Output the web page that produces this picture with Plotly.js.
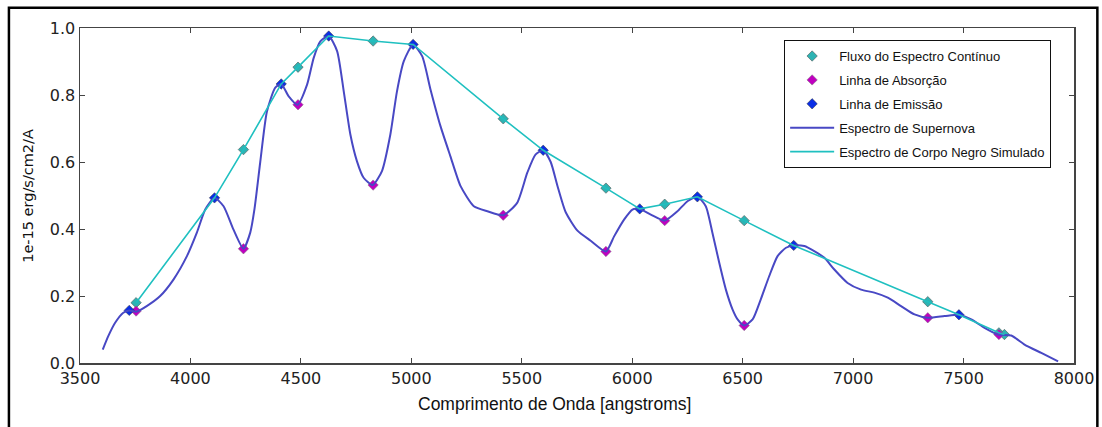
<!DOCTYPE html>
<html>
<head>
<meta charset="utf-8">
<script src="https://cdn.plot.ly/plotly-3.0.1.min.js"></script>
<style>html,body{margin:0;padding:0;background:#fff;}#chart{width:1102px;height:427px;}</style>
</head>
<body>
<div id="chart"></div>
<script>
// Supernova spectrum (traced)
const snWave = [3603, 3628, 3659, 3696, 3723, 3754, 3802, 3863, 3923, 3984, 4029, 4067, 4109, 4150, 4195, 4240, 4271, 4290, 4316, 4346, 4384, 4411, 4444, 4485, 4528, 4558, 4588, 4626, 4664, 4694, 4724, 4754, 4784, 4825, 4867, 4905, 4935, 4966, 5008, 5049, 5087, 5132, 5177, 5223, 5283, 5344, 5416, 5479, 5525, 5562, 5597, 5631, 5661, 5699, 5752, 5812, 5881, 5918, 5963, 6001, 6034, 6084, 6147, 6205, 6250, 6295, 6333, 6363, 6394, 6424, 6454, 6477, 6507, 6545, 6582, 6620, 6658, 6696, 6731, 6779, 6824, 6870, 6915, 6975, 7036, 7096, 7157, 7217, 7278, 7338, 7414, 7479, 7535, 7595, 7656, 7716, 7776, 7852, 7928];
const snFlux = [0.040, 0.080, 0.120, 0.150, 0.157, 0.153, 0.170, 0.200, 0.249, 0.319, 0.389, 0.458, 0.493, 0.468, 0.398, 0.341, 0.390, 0.460, 0.600, 0.750, 0.822, 0.833, 0.797, 0.771, 0.831, 0.911, 0.960, 0.976, 0.931, 0.811, 0.682, 0.602, 0.553, 0.531, 0.573, 0.682, 0.811, 0.901, 0.951, 0.916, 0.816, 0.707, 0.617, 0.528, 0.468, 0.453, 0.441, 0.478, 0.568, 0.622, 0.635, 0.600, 0.530, 0.450, 0.395, 0.365, 0.333, 0.378, 0.428, 0.458, 0.460, 0.443, 0.425, 0.453, 0.483, 0.496, 0.468, 0.389, 0.299, 0.219, 0.160, 0.130, 0.112, 0.130, 0.190, 0.259, 0.319, 0.344, 0.351, 0.349, 0.334, 0.314, 0.279, 0.239, 0.219, 0.210, 0.195, 0.170, 0.145, 0.135, 0.140, 0.144, 0.130, 0.105, 0.085, 0.082, 0.055, 0.030, 0.005];

// Simulated black-body (continuum) line
const bbWave = [3754, 4109, 4240, 4411, 4487, 4626, 4827, 5008, 5416, 5597, 5881, 6034, 6147, 6295, 6507, 6731, 7338, 7479, 7660, 7685];
const bbFlux = [0.180, 0.493, 0.637, 0.833, 0.883, 0.976, 0.961, 0.951, 0.729, 0.635, 0.522, 0.460, 0.474, 0.496, 0.425, 0.351, 0.183, 0.144, 0.090, 0.085];

// Continuum flux points
const contWave = [3754, 4240, 4487, 4827, 5416, 5881, 6147, 6507, 7338, 7660, 7685];
const contFlux = [0.180, 0.637, 0.883, 0.961, 0.729, 0.522, 0.474, 0.425, 0.183, 0.090, 0.085];

// Absorption lines
const absWave = [3754, 4240, 4487, 4827, 5416, 5881, 6147, 6507, 7338, 7660];
const absFlux = [0.155, 0.341, 0.771, 0.531, 0.441, 0.333, 0.425, 0.112, 0.135, 0.085];

// Emission lines
const emWave = [3723, 4109, 4411, 4626, 5008, 5597, 6034, 6295, 6731, 7479];
const emFlux = [0.157, 0.493, 0.833, 0.976, 0.951, 0.635, 0.460, 0.496, 0.351, 0.144];

const xTicks = [3500, 4000, 4500, 5000, 5500, 6000, 6500, 7000, 7500, 8000];
const yTicks = [0.0, 0.2, 0.4, 0.6, 0.8, 1.0];

const traces = [
  {x: contWave, y: contFlux, mode: 'markers', name: 'Fluxo do Espectro Contínuo',
   marker: {symbol: 'diamond', size: 8, color: '#2db3b3', line: {color: '#555', width: 0.6}},
   legendgroup: 'g1', visible: true},
  {x: absWave, y: absFlux, mode: 'markers', name: 'Linha de Absorção',
   marker: {symbol: 'diamond', size: 8, color: '#c000c0', line: {color: '#777', width: 0.5}},
   legendgroup: 'g2'},
  {x: emWave, y: emFlux, mode: 'markers', name: 'Linha de Emissão',
   marker: {symbol: 'diamond', size: 8, color: '#0a2ee6', line: {color: '#333', width: 0.5}},
   legendgroup: 'g3'},
  {x: snWave, y: snFlux, mode: 'lines', name: 'Espectro de Supernova',
   line: {color: '#4848c4', width: 2, shape: 'spline', smoothing: 0.6},
   legendgroup: 'g4'},
  {x: bbWave, y: bbFlux, mode: 'lines', name: 'Espectro de Corpo Negro Simulado',
   line: {color: '#1fc0c0', width: 1.6},
   legendgroup: 'g5'}
];

const axisFont = {family: 'DejaVu Sans', size: 16, color: '#222'};

const layout = {
  width: 1102, height: 427,
  margin: {l: 80, r: 28, t: 28, b: 64, pad: 0},
  paper_bgcolor: '#fff', plot_bgcolor: '#fff',
  showlegend: true,
  legend: {
    x: 0.977, y: 0.964, xanchor: 'right', yanchor: 'top',
    bordercolor: '#111', borderwidth: 1, bgcolor: '#fff',
    font: {family: 'Liberation Sans', size: 13, color: '#111'},
    tracegroupgap: 4, traceorder: 'grouped', itemwidth: 44
  },
  xaxis: {
    range: [3500, 8000], tickvals: xTicks, ticktext: xTicks.map(String),
    ticks: 'inside', ticklen: 5, tickcolor: '#444', tickwidth: 1,
    showline: true, linecolor: '#444', linewidth: 1.5, mirror: 'ticks',
    showgrid: false, zeroline: false, tickfont: axisFont
  },
  yaxis: {
    range: [0, 1], tickvals: yTicks, ticktext: yTicks.map(v => v.toFixed(1)),
    ticks: 'inside', ticklen: 5, tickcolor: '#444', tickwidth: 1,
    showline: true, linecolor: '#444', linewidth: 1.5, mirror: 'ticks',
    showgrid: false, zeroline: false, tickfont: axisFont
  },
  annotations: [
    {text: 'Comprimento de Onda [angstroms]', xref: 'paper', yref: 'paper',
     x: 0.477, y: -0.088, xanchor: 'center', yanchor: 'top', showarrow: false,
     font: {family: 'Liberation Sans', size: 17.5, color: '#111'}},
    {text: '1e-15 erg/s/cm2/A', xref: 'paper', yref: 'paper',
     x: -0.053, y: 0.5, xanchor: 'center', yanchor: 'middle', textangle: -90, showarrow: false,
     font: {family: 'DejaVu Sans', size: 14.5, color: '#111'}}
  ],
  shapes: [
    {type: 'rect', xref: 'paper', yref: 'paper', x0: -0.0715, x1: 1.0235, y0: -0.5, y1: 1.0605,
     line: {color: '#000', width: 2.5}, fillcolor: 'rgba(0,0,0,0)', layer: 'above'}
  ]
};

Plotly.newPlot('chart', traces, layout, {displayModeBar: false, staticPlot: true});
</script>
</body>
</html>
